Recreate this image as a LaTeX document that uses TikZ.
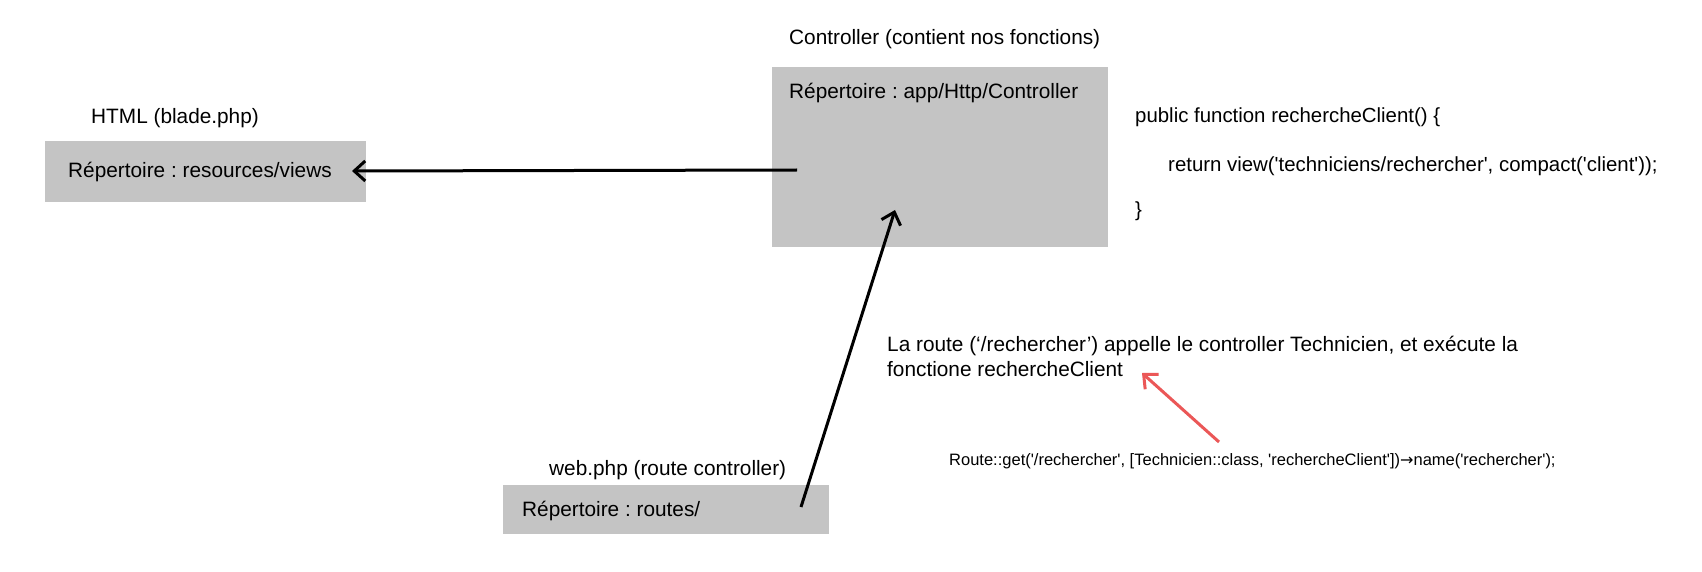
\documentclass[tikz,border=0pt]{standalone}
\usepackage{fontspec}
\setmainfont{Liberation Sans}
\newfontfamily\plainsans{Liberation Sans}
\newfontfamily\symfont{DejaVu Sans}
\usetikzlibrary{arrows.meta}
\definecolor{boxgray}{HTML}{C4C4C4}
\definecolor{redarrow}{HTML}{EB5757}
\tikzset{
  graybox/.style={fill=boxgray, draw=none},
  lbl/.style={anchor=base west, inner sep=0pt, font=\frenchspacing\fontsize{20.8}{25}\selectfont},
  codelbl/.style={anchor=base west, inner sep=0pt, font=\frenchspacing\plainsans\fontsize{20.4}{25}\selectfont},
  smalllbl/.style={anchor=base west, inner sep=0pt, font=\frenchspacing\plainsans\fontsize{16.5}{19}\selectfont},
  conn/.style={line width=3pt, -{Straight Barb[length=11pt, width=20pt, line width=3pt]}},
  redconn/.style={conn, draw=redarrow}
}
\begin{document}
\begin{tikzpicture}[x=1pt,y=-1pt]
\useasboundingbox[fill=white] (0,0) rectangle (1702,572);
% boxes
\path[graybox] (772,67) rectangle (1108,247);
\path[graybox] (44.5,141) rectangle (366,202);
\path[graybox] (502.6,485) rectangle (829,534);
% titles
\node[lbl] (ctrltitle) at (789,45) {Controller (contient nos fonctions)};
\node[lbl] (ctrldir) at (789,99) {Répertoire : app/Http/Controller};
\node[lbl] (htmltitle) at (91,124) {HTML (blade.php)};
\node[lbl] (htmldir) at (68,178) {Répertoire : resources/views};
\node[lbl] (webtitle) at (549,475) {web.php (route controller)};
\node[lbl] (webdir) at (522,516) {Répertoire : routes/};
% code
\node[codelbl] (code1) at (1135,123) {public function rechercheClient() \{};
\node[codelbl] (code2) at (1168,172) {return view('techniciens/rechercher', compact('client'));};
\node[codelbl] (code3) at (1135,216) {\}};
% explanation
\node[lbl] (expl1) at (887,351) {La route (‘/rechercher’) appelle le controller Technicien, et exécute la};
\node[lbl] (expl2) at (887,376) {fonctione rechercheClient};
\node[smalllbl] (route) at (949,465) {Route::get('/rechercher', [Technicien::class, 'rechercheClient']){\symfont\fontsize{16}{19}\selectfont →}name('rechercher');};
% connector endpoints
\coordinate (ctrlout) at (797,170);
\coordinate (htmlin) at (352,171);
\coordinate (webout) at (801,507);
\coordinate (ctrlin) at (895,210);
\coordinate (routeout) at (1219,442);
\coordinate (explin) at (1142,373);
% connectors
\draw[conn] (ctrlout) -- (htmlin);
\draw[conn] (webout) -- (ctrlin);
\draw[redconn] (routeout) -- (explin);
\end{tikzpicture}
\end{document}
